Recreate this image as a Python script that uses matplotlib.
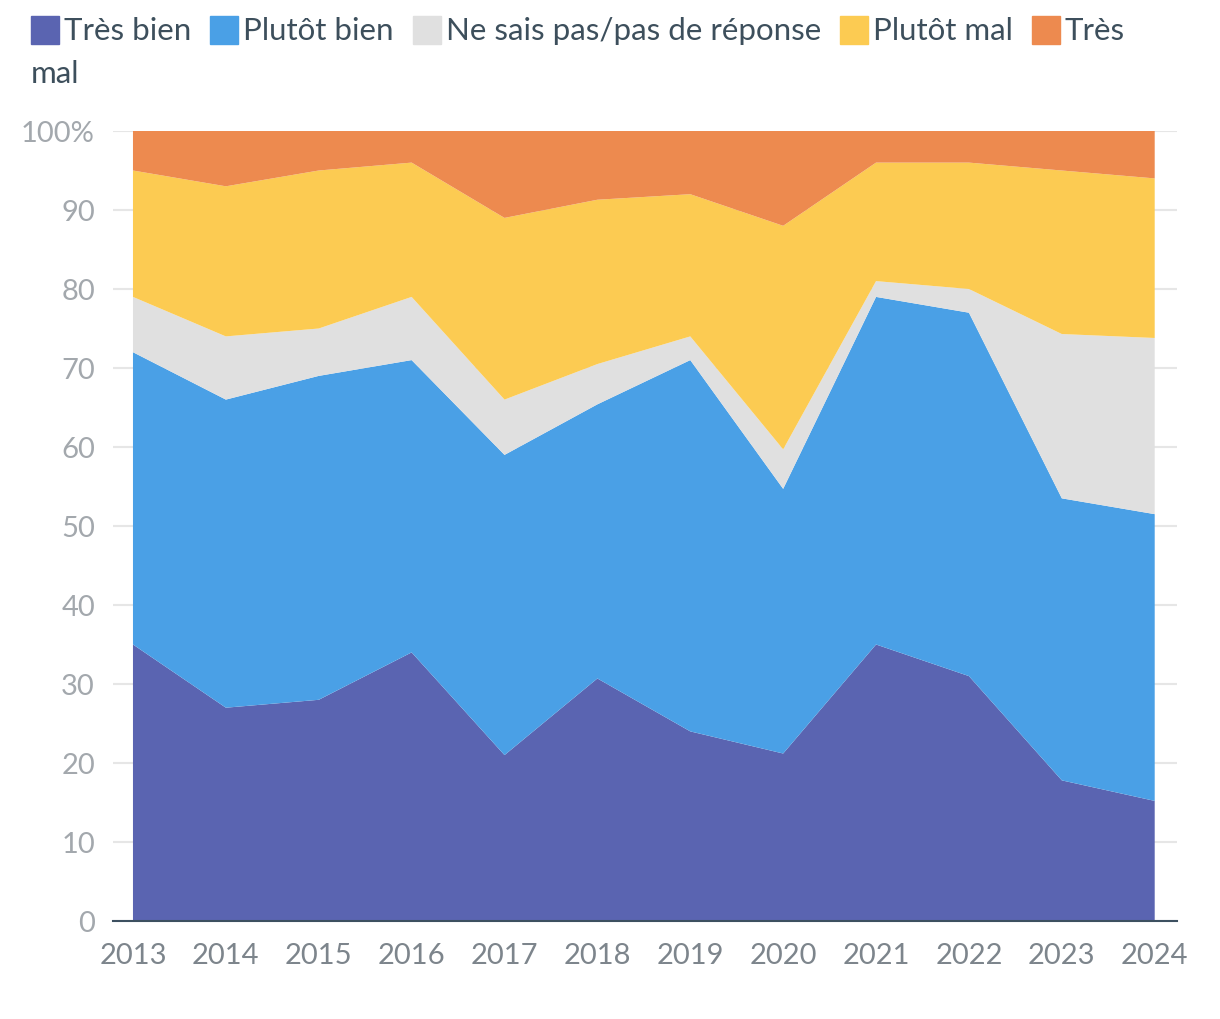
import matplotlib
matplotlib.use('Agg')
import matplotlib.pyplot as plt
from matplotlib.patches import Rectangle

plt.rcParams['font.family'] = ['Lato', 'DejaVu Sans']

# Data (percent)
years = [2013, 2014, 2015, 2016, 2017, 2018, 2019, 2020, 2021, 2022, 2023, 2024]
tres_bien = [35, 27, 28, 34, 21, 30.7, 24, 21.2, 35, 31, 17.8, 15.2]
plutot_bien = [37, 39, 41, 37, 38, 34.7, 47, 33.5, 44, 46, 35.7, 36.3]
ne_sais_pas = [7, 8, 6, 8, 7, 5.1, 3, 5, 2, 3, 20.8, 22.3]
plutot_mal = [16, 19, 20, 17, 23, 20.8, 18, 28.3, 15, 16, 20.7, 20.2]
tres_mal = [5, 7, 5, 4, 11, 8.7, 8, 12, 4, 4, 5, 6]

labels = ['Très bien', 'Plutôt bien', 'Ne sais pas/pas de réponse', 'Plutôt mal', 'Très mal']
colors = ['#5a64b1', '#4aa0e6', '#e0e0e0', '#fccb52', '#ed8a4f']

fig = plt.figure(figsize=(12.2, 10.2), dpi=100)
ax = fig.add_axes([113 / 1220, 98 / 1020, (1177 - 113) / 1220, (922 - 132) / 1020])

ax.stackplot(years, tres_bien, plutot_bien, ne_sais_pas, plutot_mal, tres_mal,
             colors=colors, linewidth=0, zorder=2)

ax.set_xlim(2012.785, 2024.24)
ax.set_ylim(0, 100)
ax.set_yticks(range(0, 101, 10))
ax.set_yticklabels([str(v) for v in range(0, 100, 10)] + ['100%'])
ax.set_xticks(years)
ax.set_xticklabels([str(y) for y in years])
ax.grid(axis='y', color='#e6e6e6', linewidth=1.5, zorder=0)
ax.set_axisbelow(True)
for s in ['top', 'right', 'left']:
    ax.spines[s].set_visible(False)
ax.spines['bottom'].set_color('#3d5060')
ax.spines['bottom'].set_linewidth(1.5)
ax.spines['bottom'].set_zorder(5)
ax.tick_params(axis='y', length=0, pad=13, labelsize=21, labelcolor='#a3a8ad')
ax.tick_params(axis='x', length=0, pad=15, labelsize=21, labelcolor='#7d858c')

# Legend laid out by hand so it wraps like the original
fig.canvas.draw()
renderer = fig.canvas.get_renderer()
W, H = 1220, 1020
x = 31
y_top = 17
sq = 28
text_kw = dict(fontsize=22.5, color='#3d4f5c', va='center', ha='left')
for i, (lab, col) in enumerate(zip(labels, colors)):
    fig.patches.append(Rectangle((x / W, 1 - (y_top + sq) / H), sq / W, sq / H,
                                 transform=fig.transFigure, color=col))
    tx = x + sq + 5
    if lab == 'Très mal':
        fig.text(tx / W, 1 - (y_top + sq / 2) / H, 'Très', **text_kw)
        fig.text(31 / W, 1 - 74 / H, 'mal', **text_kw)
        break
    t = fig.text(tx / W, 1 - (y_top + sq / 2) / H, lab, **text_kw)
    bb = t.get_window_extent(renderer)
    x = tx + bb.width + 19

fig.savefig('out.png', dpi=100)
